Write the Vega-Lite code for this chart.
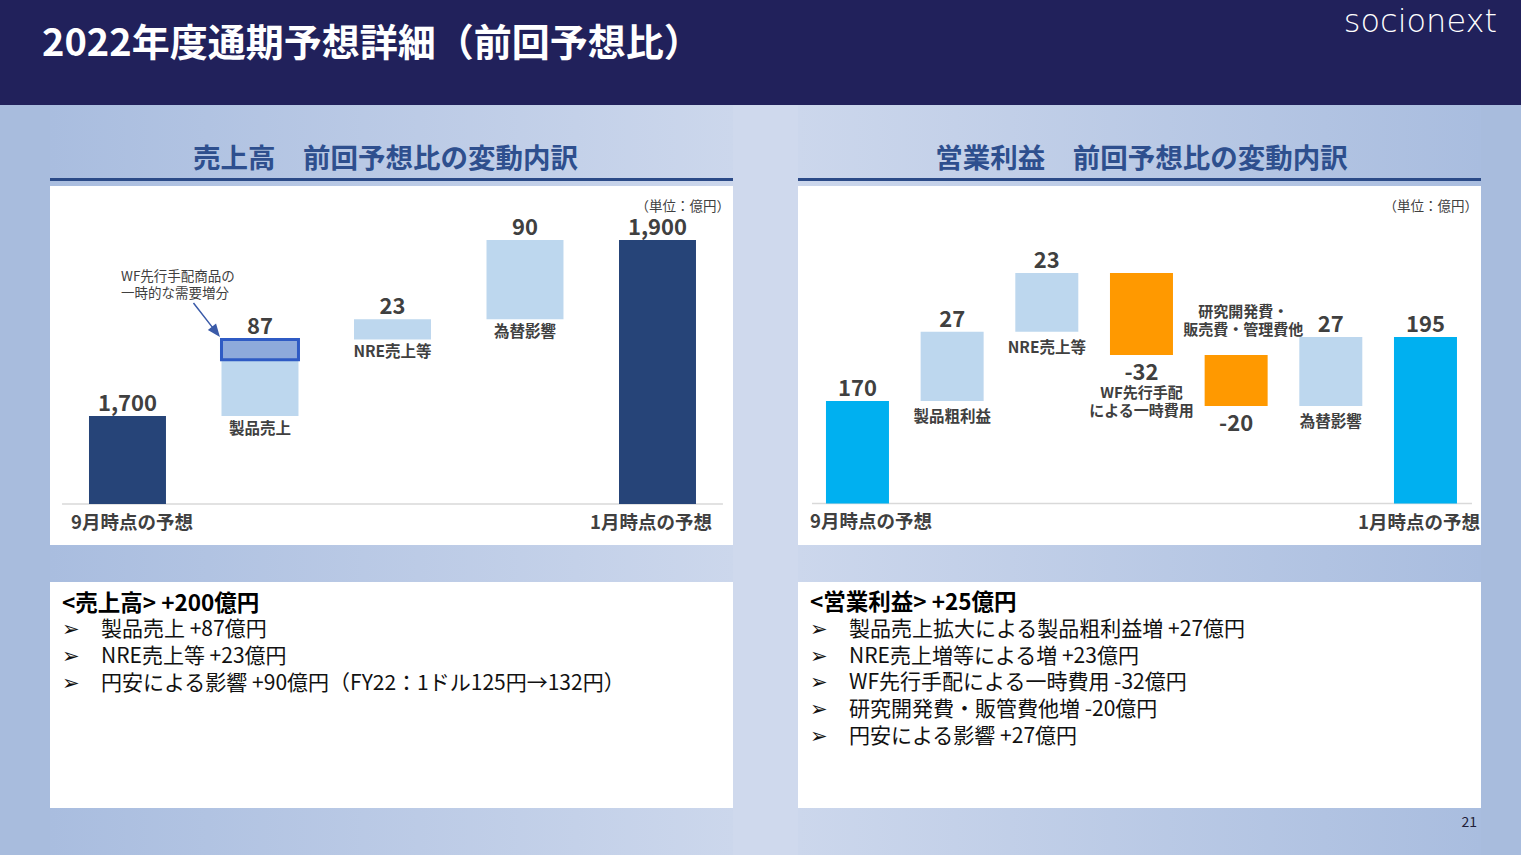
{
  "$schema": "https://vega.github.io/schema/vega-lite/v6.json",
  "padding": 0,
  "background": "#b8c8e5",
  "columns": 5,
  "spacing": 0,
  "bounds": "flush",
  "align": "each",
  "resolve": {"scale": {"color": "independent"}},
  "data": {"values": []},
  "config": {"view": {"stroke": null}, "font": "Noto Sans CJK JP", "text": {"font": "Noto Sans CJK JP"}},
  "concat": [
    {"width": 50, "height": 105, "view": {"fill": "#21215b", "stroke": null}, "mark": "text"},
    {"width": 683, "height": 105, "view": {"fill": "#21215b", "stroke": null}, "mark": "text"},
    {"width": 65, "height": 105, "view": {"fill": "#21215b", "stroke": null}, "mark": "text"},
    {"width": 683, "height": 105, "view": {"fill": "#21215b", "stroke": null}, "mark": "text"},
    {"width": 40, "height": 105, "view": {"fill": "#21215b", "stroke": null}, "mark": "text"},

    {"width": 50, "height": 73, "view": {"fill": "#a8bcdd", "stroke": null}, "mark": "text",
     "title": {"text": "2022年度通期予想詳細（前回予想比）", "anchor": "start", "frame": "group", "dx": 42, "offset": 11, "baseline": "alphabetic", "fontSize": 38, "fontWeight": "bold", "color": "#ffffff", "font": "Noto Sans CJK JP"}},
    {"width": 683, "height": 73, "view": {"fill": {"gradient": "linear", "x1": 0, "y1": 0, "x2": 1, "y2": 0, "stops": [{"offset": 0, "color": "#a9bddf"}, {"offset": 1, "color": "#ccd7ec"}]}, "stroke": null}, "mark": "text",
     "title": {"text": "売上高　前回予想比の変動内訳", "anchor": "middle", "frame": "group", "dx": -6, "offset": -90, "baseline": "alphabetic", "fontSize": 27.5, "fontWeight": "bold", "color": "#2e4f8e", "font": "Noto Sans CJK JP"}},
    {"width": 65, "height": 73, "view": {"fill": "#cfd9ed", "stroke": null}, "mark": "text"},
    {"width": 683, "height": 73, "view": {"fill": {"gradient": "linear", "x1": 0, "y1": 0, "x2": 1, "y2": 0, "stops": [{"offset": 0, "color": "#ccd7ec"}, {"offset": 1, "color": "#a9bddf"}]}, "stroke": null}, "mark": "text",
     "title": {"text": "営業利益　前回予想比の変動内訳", "anchor": "middle", "frame": "group", "dx": 2, "offset": -90, "baseline": "alphabetic", "fontSize": 27.5, "fontWeight": "bold", "color": "#2e4f8e", "font": "Noto Sans CJK JP"}},
    {"width": 40, "height": 73, "view": {"fill": "#a8bcdd", "stroke": null}, "mark": "text",
     "title": {"text": "socionext", "anchor": "end", "frame": "group", "dx": -24, "offset": 41, "baseline": "alphabetic", "fontSize": 32, "fontWeight": 200, "color": "#ffffff", "font": "DejaVu Sans"}},

    {"width": 50, "height": 3, "view": {"fill": "#a8bcdd", "stroke": null}, "mark": "text"},
    {"width": 683, "height": 3, "view": {"fill": "#2b4a87", "stroke": null}, "mark": "text"},
    {"width": 65, "height": 3, "view": {"fill": "#cfd9ed", "stroke": null}, "mark": "text"},
    {"width": 683, "height": 3, "view": {"fill": "#2b4a87", "stroke": null}, "mark": "text"},
    {"width": 40, "height": 3, "view": {"fill": "#a8bcdd", "stroke": null}, "mark": "text"},

    {"width": 50, "height": 5, "view": {"fill": "#a8bcdd", "stroke": null}, "mark": "text"},
    {"width": 683, "height": 5, "view": {"fill": {"gradient": "linear", "x1": 0, "y1": 0, "x2": 1, "y2": 0, "stops": [{"offset": 0, "color": "#a9bddf"}, {"offset": 1, "color": "#ccd7ec"}]}, "stroke": null}, "mark": "text"},
    {"width": 65, "height": 5, "view": {"fill": "#cfd9ed", "stroke": null}, "mark": "text"},
    {"width": 683, "height": 5, "view": {"fill": {"gradient": "linear", "x1": 0, "y1": 0, "x2": 1, "y2": 0, "stops": [{"offset": 0, "color": "#ccd7ec"}, {"offset": 1, "color": "#a9bddf"}]}, "stroke": null}, "mark": "text"},
    {"width": 40, "height": 5, "view": {"fill": "#a8bcdd", "stroke": null}, "mark": "text"},

    {"width": 50, "height": 359, "view": {"fill": "#a8bcdd", "stroke": null}, "mark": "text"},
    {
      "width": 683, "height": 359,
      "view": {"fill": "#ffffff", "stroke": null},
      "title": {"text": "（単位：億円）", "anchor": "end", "frame": "group", "dx": -3, "offset": -38, "baseline": "alphabetic", "fontSize": 13.5, "fontWeight": "normal", "color": "#404040", "font": "Noto Sans CJK JP"},
      "data": {"values": [
        {"項目": "9月時点の予想", "kind": "total", "start": 1600, "end": 1700, "label": "1,700"},
        {"項目": "製品売上", "kind": "up", "start": 1700, "end": 1787, "label": "87", "note": "製品売上"},
        {"項目": "NRE売上等", "kind": "up", "start": 1787, "end": 1810, "label": "23", "note": "NRE売上等"},
        {"項目": "為替影響", "kind": "up", "start": 1810, "end": 1900, "label": "90", "note": "為替影響"},
        {"項目": "1月時点の予想", "kind": "total", "start": 1600, "end": 1900, "label": "1,900"}
      ]},
      "encoding": {
        "x": {"field": "項目", "type": "nominal", "sort": null, "axis": null,
              "scale": {"domain": ["9月時点の予想", "製品売上", "NRE売上等", "為替影響", "1月時点の予想"], "paddingInner": 0.419, "paddingOuter": 0.2868, "align": 0.513}},
        "y": {"field": "end", "type": "quantitative", "axis": null, "scale": {"domain": [1553.4, 1961.4], "nice": false, "zero": false}}
      },
      "layer": [
        {"data": {"values": [{"floor": 1600}]}, "mark": {"type": "rule", "color": "#d9d9d9", "strokeWidth": 1.5},
         "encoding": {"x": {"datum": "9月時点の予想", "type": "nominal", "bandPosition": -0.35}, "x2": {"datum": "1月時点の予想", "bandPosition": 1.35}, "y": {"field": "floor", "type": "quantitative"}}},
        {"mark": {"type": "bar"},
         "encoding": {"y2": {"field": "start"},
                      "color": {"field": "kind", "type": "nominal", "scale": {"domain": ["total", "up"], "range": ["#264478", "#bdd7ee"]}, "legend": null}}},
        {"data": {"values": [{"項目": "製品売上", "start": 1764, "end": 1787}]},
         "mark": {"type": "bar", "fill": "#8eaadb", "stroke": "#2f5bc4", "strokeWidth": 3},
         "encoding": {"y2": {"field": "start"}}},
        {"mark": {"type": "text", "baseline": "alphabetic", "dy": -5, "fontSize": 22, "fontWeight": "bold", "color": "#404040"},
         "encoding": {"text": {"field": "label"}}},
        {"transform": [{"filter": "datum.kind === 'up'"}],
         "mark": {"type": "text", "baseline": "alphabetic", "dy": 18, "fontSize": 15.5, "fontWeight": "bold", "color": "#404040"},
         "encoding": {"y": {"field": "start", "type": "quantitative"}, "text": {"field": "note"}}},
        {"transform": [{"filter": {"field": "項目", "equal": "9月時点の予想"}}],
         "mark": {"type": "text", "align": "left", "baseline": "alphabetic", "dy": 25, "fontSize": 18.5, "fontWeight": "bold", "color": "#404040"},
         "encoding": {"x": {"field": "項目", "type": "nominal", "bandPosition": -0.234}, "y": {"field": "start", "type": "quantitative"}, "text": {"field": "項目"}}},
        {"transform": [{"filter": {"field": "項目", "equal": "1月時点の予想"}}],
         "mark": {"type": "text", "align": "right", "baseline": "alphabetic", "dy": 25, "fontSize": 18.5, "fontWeight": "bold", "color": "#404040"},
         "encoding": {"x": {"field": "項目", "type": "nominal", "bandPosition": 1.208}, "y": {"field": "start", "type": "quantitative"}, "text": {"field": "項目"}}},
        {"data": {"values": [{"項目": "製品売上", "at": 1853.4, "text": "WF先行手配商品の\n一時的な需要増分"}]},
         "mark": {"type": "text", "align": "left", "baseline": "alphabetic", "lineBreak": "\n", "lineHeight": 17, "fontSize": 13.5, "color": "#404040"},
         "encoding": {"x": {"field": "項目", "type": "nominal", "bandPosition": -1.305}, "y": {"field": "at", "type": "quantitative"}, "text": {"field": "text"}}},
        {"data": {"values": [{"項目": "製品売上", "at": 1810}]},
         "mark": {"type": "point", "shape": "M-1,0L0.55,0M1,0L0.5,-0.2L0.5,0.2Z", "size": 1681, "angle": 52, "fill": "#3a5aa8", "stroke": "#3a5aa8", "strokeWidth": 1.5, "opacity": 1, "fillOpacity": 1},
         "encoding": {"x": {"field": "項目", "type": "nominal", "bandPosition": -0.2}, "y": {"field": "at", "type": "quantitative"}}}
      ]
    },
    {"width": 65, "height": 359, "view": {"fill": "#cfd9ed", "stroke": null}, "mark": "text"},
    {
      "width": 683, "height": 359,
      "view": {"fill": "#ffffff", "stroke": null},
      "title": {"text": "（単位：億円）", "anchor": "end", "frame": "group", "dx": -3, "offset": -38, "baseline": "alphabetic", "fontSize": 13.5, "fontWeight": "normal", "color": "#404040", "font": "Noto Sans CJK JP"},
      "data": {"values": [
        {"項目": "9月時点の予想", "kind": "total", "start": 130, "end": 170, "label": "170"},
        {"項目": "製品粗利益", "kind": "up", "start": 170, "end": 197, "label": "27", "note": "製品粗利益"},
        {"項目": "NRE売上等", "kind": "up", "start": 197, "end": 220, "label": "23", "note": "NRE売上等"},
        {"項目": "WF先行手配による一時費用", "kind": "down", "start": 220, "end": 188, "label": "-32", "note": "WF先行手配\nによる一時費用"},
        {"項目": "研究開発費・販売費・管理費他", "kind": "down", "start": 188, "end": 168, "label": "-20", "note": "研究開発費・\n販売費・管理費他"},
        {"項目": "為替影響", "kind": "up", "start": 168, "end": 195, "label": "27", "note": "為替影響"},
        {"項目": "1月時点の予想", "kind": "total", "start": 130, "end": 195, "label": "195"}
      ]},
      "encoding": {
        "x": {"field": "項目", "type": "nominal", "sort": null, "axis": null,
              "scale": {"domain": ["9月時点の予想", "製品粗利益", "NRE売上等", "WF先行手配による一時費用", "研究開発費・販売費・管理費他", "為替影響", "1月時点の予想"], "paddingInner": 0.3345, "paddingOuter": 0.2746, "align": 0.538}},
        "y": {"field": "end", "type": "quantitative", "axis": null, "scale": {"domain": [113.75, 253.98], "nice": false, "zero": false}}
      },
      "layer": [
        {"data": {"values": [{"floor": 130}]}, "mark": {"type": "rule", "color": "#d9d9d9", "strokeWidth": 1.5},
         "encoding": {"x": {"datum": "9月時点の予想", "type": "nominal", "bandPosition": -0.222}, "x2": {"datum": "1月時点の予想", "bandPosition": 1.238}, "y": {"field": "floor", "type": "quantitative"}}},
        {"mark": {"type": "bar"},
         "encoding": {"y2": {"field": "start"},
                      "color": {"field": "kind", "type": "nominal", "scale": {"domain": ["total", "up", "down"], "range": ["#00b0f0", "#bdd7ee", "#ff9900"]}, "legend": null}}},
        {"transform": [{"filter": "datum.kind !== 'down'"}],
         "mark": {"type": "text", "baseline": "alphabetic", "dy": -5, "fontSize": 22, "fontWeight": "bold", "color": "#404040"},
         "encoding": {"text": {"field": "label"}}},
        {"transform": [{"filter": "datum.kind === 'down'"}],
         "mark": {"type": "text", "baseline": "alphabetic", "dy": 25, "fontSize": 22, "fontWeight": "bold", "color": "#404040"},
         "encoding": {"text": {"field": "label"}}},
        {"transform": [{"filter": "datum.kind === 'up'"}],
         "mark": {"type": "text", "baseline": "alphabetic", "dy": 21, "fontSize": 15.5, "fontWeight": "bold", "color": "#404040"},
         "encoding": {"y": {"field": "start", "type": "quantitative"}, "text": {"field": "note"}}},
        {"transform": [{"filter": {"field": "項目", "equal": "WF先行手配による一時費用"}}],
         "mark": {"type": "text", "baseline": "alphabetic", "dy": 43, "lineBreak": "\n", "lineHeight": 18, "fontSize": 15, "fontWeight": "bold", "color": "#404040"},
         "encoding": {"text": {"field": "note"}}},
        {"transform": [{"filter": {"field": "項目", "equal": "研究開発費・販売費・管理費他"}}],
         "mark": {"type": "text", "baseline": "alphabetic", "dy": -38, "dx": 7, "lineBreak": "\n", "lineHeight": 18, "fontSize": 15, "fontWeight": "bold", "color": "#404040"},
         "encoding": {"y": {"field": "start", "type": "quantitative"}, "text": {"field": "note"}}},
        {"transform": [{"filter": {"field": "項目", "equal": "9月時点の予想"}}],
         "mark": {"type": "text", "align": "left", "baseline": "alphabetic", "dy": 25, "fontSize": 18.5, "fontWeight": "bold", "color": "#404040"},
         "encoding": {"x": {"field": "項目", "type": "nominal", "bandPosition": -0.254}, "y": {"field": "start", "type": "quantitative"}, "text": {"field": "項目"}}},
        {"transform": [{"filter": {"field": "項目", "equal": "1月時点の予想"}}],
         "mark": {"type": "text", "align": "right", "baseline": "alphabetic", "dy": 26, "fontSize": 18.5, "fontWeight": "bold", "color": "#404040"},
         "encoding": {"x": {"field": "項目", "type": "nominal", "bandPosition": 1.365}, "y": {"field": "start", "type": "quantitative"}, "text": {"field": "項目"}}}
      ]
    },
    {"width": 40, "height": 359, "view": {"fill": "#a8bcdd", "stroke": null}, "mark": "text"},

    {"width": 50, "height": 37, "view": {"fill": "#a8bcdd", "stroke": null}, "mark": "text"},
    {"width": 683, "height": 37, "view": {"fill": {"gradient": "linear", "x1": 0, "y1": 0, "x2": 1, "y2": 0, "stops": [{"offset": 0, "color": "#a9bddf"}, {"offset": 1, "color": "#ccd7ec"}]}, "stroke": null}, "mark": "text"},
    {"width": 65, "height": 37, "view": {"fill": "#cfd9ed", "stroke": null}, "mark": "text"},
    {"width": 683, "height": 37, "view": {"fill": {"gradient": "linear", "x1": 0, "y1": 0, "x2": 1, "y2": 0, "stops": [{"offset": 0, "color": "#ccd7ec"}, {"offset": 1, "color": "#a9bddf"}]}, "stroke": null}, "mark": "text"},
    {"width": 40, "height": 37, "view": {"fill": "#a8bcdd", "stroke": null}, "mark": "text"},

    {"width": 50, "height": 226, "view": {"fill": "#a8bcdd", "stroke": null}, "mark": "text"},
    {"width": 683, "height": 226, "view": {"fill": "#ffffff", "stroke": null}, "mark": "text",
     "title": {"text": "<売上高> +200億円",
               "subtitle": ["➢\u3000製品売上 +87億円", "➢\u3000NRE売上等 +23億円", "➢\u3000円安による影響 +90億円（FY22：1ドル125円→132円）"],
               "anchor": "start", "frame": "group", "dx": 12, "offset": -112, "baseline": "top",
               "fontSize": 22.5, "fontWeight": "bold", "color": "#000000", "font": "Noto Sans CJK JP",
               "subtitleFont": "Noto Sans CJK JP", "subtitleFontSize": 21, "subtitleFontWeight": "normal", "subtitleColor": "#111111", "subtitleLineHeight": 26.8, "subtitlePadding": 4}},
    {"width": 65, "height": 226, "view": {"fill": "#cfd9ed", "stroke": null}, "mark": "text"},
    {"width": 683, "height": 226, "view": {"fill": "#ffffff", "stroke": null}, "mark": "text",
     "title": {"text": "<営業利益> +25億円",
               "subtitle": ["➢\u3000製品売上拡大による製品粗利益増 +27億円", "➢\u3000NRE売上増等による増 +23億円", "➢\u3000WF先行手配による一時費用 -32億円", "➢\u3000研究開発費・販管費他増 -20億円", "➢\u3000円安による影響 +27億円"],
               "anchor": "start", "frame": "group", "dx": 12, "offset": -165, "baseline": "top",
               "fontSize": 22.5, "fontWeight": "bold", "color": "#000000", "font": "Noto Sans CJK JP",
               "subtitleFont": "Noto Sans CJK JP", "subtitleFontSize": 21, "subtitleFontWeight": "normal", "subtitleColor": "#111111", "subtitleLineHeight": 26.8, "subtitlePadding": 4}},
    {"width": 40, "height": 226, "view": {"fill": "#a8bcdd", "stroke": null}, "mark": "text"},

    {"width": 50, "height": 47, "view": {"fill": "#a8bcdd", "stroke": null}, "mark": "text"},
    {"width": 683, "height": 47, "view": {"fill": {"gradient": "linear", "x1": 0, "y1": 0, "x2": 1, "y2": 0, "stops": [{"offset": 0, "color": "#a9bddf"}, {"offset": 1, "color": "#ccd7ec"}]}, "stroke": null}, "mark": "text"},
    {"width": 65, "height": 47, "view": {"fill": "#cfd9ed", "stroke": null}, "mark": "text"},
    {"width": 683, "height": 47, "view": {"fill": {"gradient": "linear", "x1": 0, "y1": 0, "x2": 1, "y2": 0, "stops": [{"offset": 0, "color": "#ccd7ec"}, {"offset": 1, "color": "#a9bddf"}]}, "stroke": null}, "mark": "text"},
    {"width": 40, "height": 47, "view": {"fill": "#a8bcdd", "stroke": null}, "mark": "text",
     "title": {"text": "21", "anchor": "end", "frame": "group", "dx": -44, "offset": -33, "baseline": "alphabetic", "fontSize": 14, "fontWeight": "normal", "color": "#1f1f3a", "font": "Noto Sans CJK JP"}}
  ]
}
